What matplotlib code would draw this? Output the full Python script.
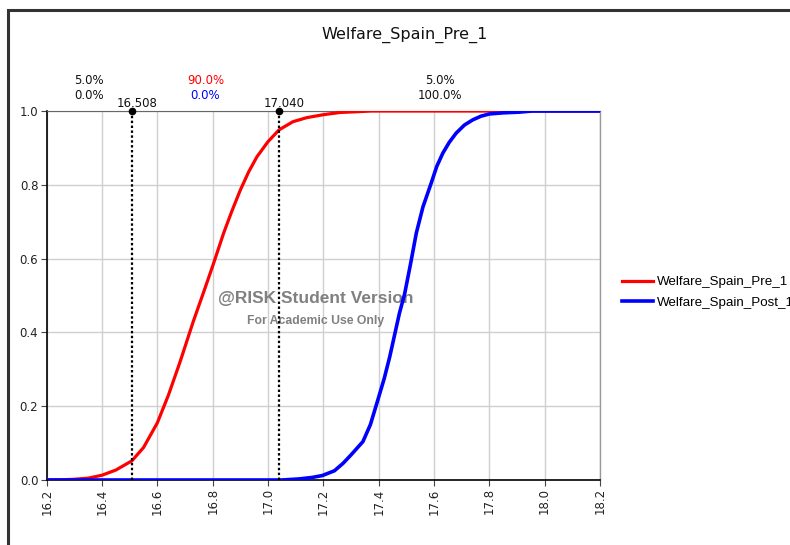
import matplotlib
matplotlib.use("Agg")
import matplotlib.pyplot as plt
from matplotlib.patches import Rectangle

# ---- data ----
red_x = [16.2, 16.25, 16.3, 16.35, 16.4, 16.45, 16.508, 16.55, 16.6, 16.64, 16.682, 16.73,
         16.77, 16.8, 16.82, 16.84, 16.87, 16.9, 16.93, 16.96, 17.0, 17.04, 17.09, 17.14,
         17.2, 17.26, 17.32, 17.374, 18.2]
red_p = [0.0, 0.0005, 0.002, 0.005, 0.013, 0.027, 0.052, 0.088, 0.155, 0.23, 0.32, 0.43,
         0.515, 0.58, 0.625, 0.67, 0.73, 0.786, 0.835, 0.876, 0.917, 0.949, 0.971, 0.982,
         0.99, 0.996, 0.998, 1.0, 1.0]

blue_x = [16.2, 17.05, 17.114, 17.16, 17.196, 17.24, 17.271, 17.30, 17.343, 17.37, 17.397,
          17.42, 17.44, 17.475, 17.494, 17.515, 17.536, 17.56, 17.59, 17.61, 17.632, 17.655,
          17.68, 17.71, 17.74, 17.77, 17.80, 17.85, 17.909, 17.956, 18.2]
blue_p = [0.0, 0.0, 0.003, 0.007, 0.012, 0.025, 0.045, 0.068, 0.104, 0.15, 0.217,
          0.275, 0.334, 0.452, 0.505, 0.585, 0.669, 0.74, 0.805, 0.85, 0.886, 0.915,
          0.94, 0.962, 0.976, 0.986, 0.992, 0.995, 0.997, 1.0, 1.0]

series_names = ["Welfare_Spain_Pre_1", "Welfare_Spain_Post_1"]
markers_x = [16.508, 17.040]
marker_labels = ["16.508", "17.040"]
region_red = ["5.0%", "90.0%", "5.0%"]
region_blue = ["0.0%", "0.0%", "100.0%"]
x_ticks = [16.2, 16.4, 16.6, 16.8, 17.0, 17.2, 17.4, 17.6, 17.8, 18.0, 18.2]
y_ticks = [0.0, 0.2, 0.4, 0.6, 0.8, 1.0]

W, H = 790, 545
fig = plt.figure(figsize=(W / 100, H / 100), dpi=100)
fig.patch.set_facecolor("white")

# outer frame (only top & left visible)
fig.add_artist(Rectangle((7.5 / W, -0.2), 1.2, 1.2 - 9.5 / H,
                         transform=fig.transFigure, fill=False, edgecolor="#333333",
                         linewidth=2.2, clip_on=False))

ax = fig.add_axes([46.7 / W, 1 - 480 / H, (600 - 46.7) / W, (480 - 111) / H])
ax.set_xlim(16.2, 18.2)
ax.set_ylim(0, 1.0)

ax.set_xticks(x_ticks)
ax.set_xticklabels([f"{v:.1f}" for v in x_ticks], rotation=90, fontsize=8.5, color="#222222")
ax.set_yticks(y_ticks)
ax.set_yticklabels([f"{v:.1f}" for v in y_ticks], fontsize=8.5, color="#222222")
ax.tick_params(axis="both", direction="out", length=4, width=0.8, color="#444444", pad=2)
ax.grid(True, color="#cfcfcf", linewidth=1.0)
ax.set_axisbelow(True)

for s in ["left", "bottom"]:
    ax.spines[s].set_color("black")
    ax.spines[s].set_linewidth(1.2)
ax.spines["top"].set_color("#666666")
ax.spines["top"].set_linewidth(0.8)
ax.spines["right"].set_color("#999999")
ax.spines["right"].set_linewidth(1.0)

# watermark
ax.text(17.172, 0.493, "@RISK Student Version", fontsize=12.5, fontweight="bold",
        family="Liberation Sans", color="#808080", ha="center", va="center", zorder=1)
ax.text(17.172, 0.432, "For Academic Use Only", fontsize=8.8, fontweight="bold",
        family="Liberation Sans", color="#808080", ha="center", va="center", zorder=1)

l1, = ax.plot(red_x, red_p, color="#ff0000", linewidth=2.3, zorder=3, label=series_names[0])
l2, = ax.plot(blue_x, blue_p, color="#0000ff", linewidth=2.6, zorder=4, label=series_names[1])

# delimiter lines
for mx, lab in zip(markers_x, marker_labels):
    ax.plot([mx, mx], [0, 1.0], color="black", linestyle=(0, (1.1, 1.1)),
            linewidth=1.6, zorder=5, clip_on=False)
    ax.plot([mx], [1.0], marker="o", markersize=4.5, color="black", zorder=6, clip_on=False)
    ax.text(mx + 0.02, 1.019, lab, fontsize=8.5, ha="center", va="center", color="#111111")

bounds = [16.2] + markers_x + [18.2]
for i in range(3):
    cx = (bounds[i] + bounds[i + 1]) / 2
    ax.text(cx, 1.084, region_red[i], fontsize=8.5, ha="center", va="center",
            color="#ff0000" if i == 1 else "#111111")
    ax.text(cx, 1.041, region_blue[i], fontsize=8.5, ha="center", va="center",
            color="#0000ff" if i == 1 else "#111111")

fig.text(405 / W, 1 - 35 / H, "Welfare_Spain_Pre_1", fontsize=11.5, ha="center",
         va="center", color="#111111")

fig.legend(handles=[l1, l2], labels=series_names, loc="upper left",
           bbox_to_anchor=(622 / W, 1 - 276 / H), frameon=False,
           prop={"family": "Liberation Sans", "size": 9.6},
           handlelength=2.3, handletextpad=0.3, labelspacing=0.6,
           borderpad=0, borderaxespad=0)

fig.savefig("out.png", dpi=100)
